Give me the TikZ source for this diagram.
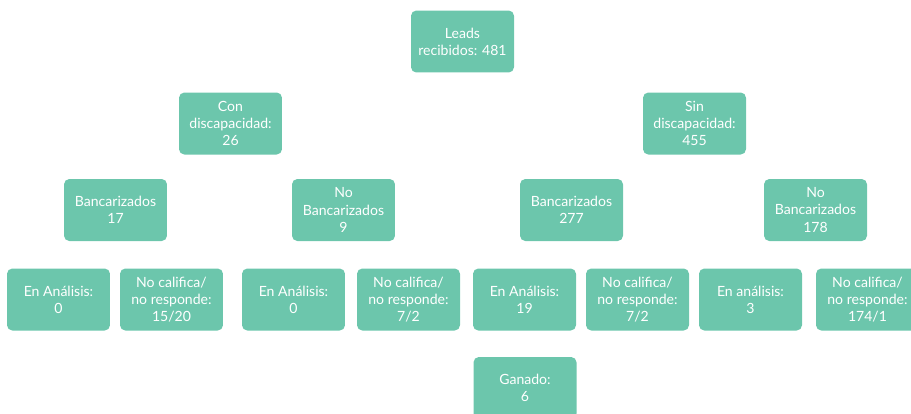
\documentclass[tikz,border=0pt]{standalone}
\usepackage{fontspec}
\setmainfont{Lato}
\definecolor{leadgreen}{RGB}{108,198,172}
\begin{document}
\begin{tikzpicture}[x=.02cm,y=-.02cm,font=\fontsize{8}{9.8}\selectfont,
  leadbox/.style={rectangle,rounded corners=3pt,fill=leadgreen,text=white,
    minimum width=2.06cm,minimum height=1.24cm,inner sep=0pt,align=center}]
  \clip (0,0) rectangle (911,413);
  \useasboundingbox (0,0) rectangle (911,413);
  % root
  \node[leadbox] (leads) at (462.5,41.5) {Leads\\recibidos: 481};
  % discapacidad
  \node[leadbox] (con) at (230.5,123.5) {Con\\discapacidad:\\26};
  \node[leadbox] (sin) at (694.5,123.5) {Sin\\discapacidad:\\455};
  % bancarizados
  \node[leadbox] (conban) at (115.5,210) {Bancarizados\\17};
  \node[leadbox] (connoban) at (343.5,210) {No\\Bancarizados\\9};
  \node[leadbox] (sinban) at (571.5,210) {Bancarizados\\277};
  \node[leadbox] (sinnoban) at (815.5,210) {No\\Bancarizados\\178};
  % estado
  \node[leadbox] (a1) at (58.5,299.5) {En Análisis:\\0};
  \node[leadbox] (n1) at (171.5,299.5) {No califica/\\no responde:\\15/20};
  \node[leadbox] (a2) at (293.5,299.5) {En Análisis:\\0};
  \node[leadbox] (n2) at (408.5,299.5) {No califica/\\no responde:\\7/2};
  \node[leadbox] (a3) at (524.5,299.5) {En Análisis:\\19};
  \node[leadbox] (n3) at (637.5,299.5) {No califica/\\no responde:\\7/2};
  \node[leadbox] (a4) at (750.5,299.5) {En análisis:\\3};
  \node[leadbox] (n4) at (867.5,299.5) {No califica/\\no responde:\\174/1};
  \node[leadbox] (ganado) at (525,388) {Ganado:\\6};
\end{tikzpicture}
\end{document}
